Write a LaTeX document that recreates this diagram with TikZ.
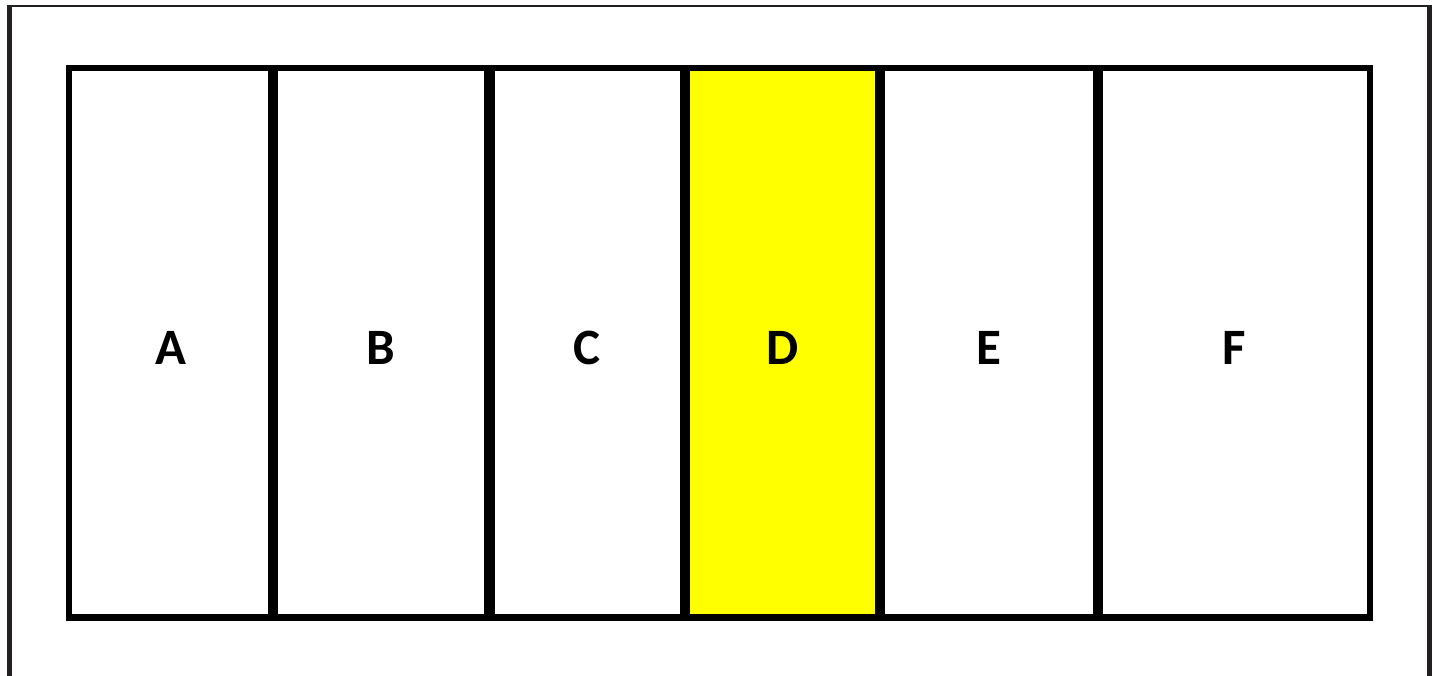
\documentclass[tikz,border=0pt]{standalone}
\usepackage{fontspec}
\setmainfont{Carlito}
\definecolor{pureyellow}{RGB}{255,255,0}
\definecolor{framegray}{RGB}{35,31,32}
\begin{document}
\begin{tikzpicture}[x=1pt,y=-1pt,
  frameline/.style={draw=framegray, line width=5pt},
  divider/.style={line width=10.5pt, draw=black},
  lbl/.style={font=\bfseries\fontsize{51}{60}\selectfont, anchor=base, inner sep=0pt}]
\useasboundingbox (0,0) rectangle (1433,676);
% outer frame
\coordinate (ftl) at (9,6);
\coordinate (ftr) at (1429.5,6);
\coordinate (fbl) at (9,680);
\coordinate (fbr) at (1429.5,680);
\draw[frameline, line width=2.5pt] (6.5,6) -- (1432,6);
\draw[frameline] (ftl) -- (fbl);
\draw[frameline] (ftr) -- (fbr);
% yellow cell
\fill[pureyellow] (685,68.5) rectangle (880,617.5);
% inner rectangle
\coordinate (tl) at (69,68.5);
\coordinate (br) at (1370,617.5);
\draw[line width=6pt, line join=miter] (tl) rectangle (br);
\draw[line width=7pt] (66,617.5) -- (1373,617.5);
% dividers
\foreach \x in {273,489.5,685,880,1098}
  \draw[divider] (\x,68.5) -- (\x,617.5);
% labels
\node[lbl] (a) at (171,365) {A};
\node[lbl] (b) at (381,365) {B};
\node[lbl] (c) at (587,365) {C};
\node[lbl] (d) at (782.5,365) {D};
\node[lbl] (e) at (989,365) {E};
\node[lbl] (f) at (1234,365) {F};
\end{tikzpicture}
\end{document}
